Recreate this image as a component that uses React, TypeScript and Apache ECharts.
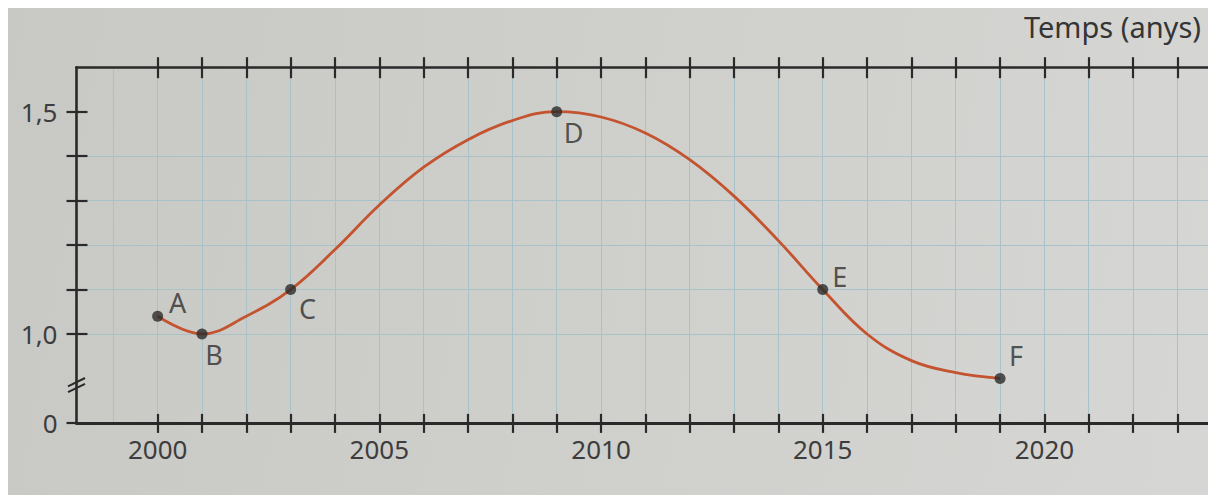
import React, { useEffect, useRef } from "react";
import * as echarts from "echarts";

// ---- data ----
const CURVE_YEARS = [2000, 2001, 2002, 2003, 2004, 2005, 2006, 2007, 2008, 2009, 2010, 2011, 2012, 2013, 2014, 2015, 2016, 2017, 2018, 2019];
const CURVE_VALUES = [1.04, 1.0, 1.04, 1.1, 1.19, 1.29, 1.375, 1.437, 1.48, 1.5, 1.488, 1.452, 1.392, 1.31, 1.21, 1.1, 1.0, 0.94, 0.913, 0.9];
const POINT_NAMES = ["A", "B", "C", "D", "E", "F"];
const POINT_YEARS = [2000, 2001, 2003, 2009, 2015, 2019];
const POINT_VALUES = [1.04, 1.0, 1.1, 1.5, 1.1, 0.9];
const X_TICK_YEARS = [2000, 2001, 2002, 2003, 2004, 2005, 2006, 2007, 2008, 2009, 2010, 2011, 2012, 2013, 2014, 2015, 2016, 2017, 2018, 2019, 2020, 2021, 2022, 2023];
const X_LABEL_YEARS = [2000, 2005, 2010, 2015, 2020];
const Y_TICK_VALUES = [1.0, 1.1, 1.2, 1.3, 1.4, 1.5];
const Y_LABEL_VALUES = [0.8, 1.0, 1.5];
const Y_LABEL_TEXTS = ["0", "1,0", "1,5"];
const X_AXIS_TITLE = "Temps (anys)";

// ---- layout / style ----
const FONT = '"Noto Sans", "Open Sans", sans-serif';
const AXIS_COLOR = "#2a2a2a";
const GRID_COLOR = "#a9c1c8";
const CURVE_COLOR = "#c4532f";
const TEXT_COLOR = "#353535";
const PX_PER_YEAR = 44.34;
const AXIS_LEFT = 68.5;
const X_MIN = 1998.17;
const X_MAX = 2023.69;
const SPLIT_MIN = 1998;
const GRID_TOP = 59.2;
const GRID_BOTTOM = 72.1;
const Y_MIN = 0.8;
const Y_MAX = 1.6;
const BREAK_VALUE = 0.885;
const LABEL_OFFSETS: Record<string, [number, number]> = {
  A: [20, -14],
  B: [12, 21],
  C: [17, 19],
  D: [17, 21],
  E: [17, -13],
  F: [16, -23],
};

export default function App() {
  const ref = useRef<HTMLDivElement>(null);

  useEffect(() => {
    if (!ref.current) return;
    const chart = echarts.init(ref.current, undefined, { renderer: "svg" });
    const grid0Left = AXIS_LEFT - (X_MIN - SPLIT_MIN) * PX_PER_YEAR;

    const tickLine = { color: AXIS_COLOR, width: 2.2 };
    const hidden = { show: false };

    const xBase = {
      type: "value" as const,
      gridIndex: 1,
      min: X_MIN,
      max: X_MAX,
      splitLine: hidden,
    };

    const option: any = {
      animation: false,
      backgroundColor: "transparent",
      title: {
        text: X_AXIS_TITLE,
        right: 7,
        top: 2,
        padding: 0,
        textStyle: { fontSize: 29, fontWeight: "normal", color: TEXT_COLOR, fontFamily: FONT, lineHeight: 32 },
      },
      grid: [
        { left: grid0Left, right: 0, top: GRID_TOP, bottom: GRID_BOTTOM },
        { left: AXIS_LEFT, right: 0, top: GRID_TOP, bottom: GRID_BOTTOM },
      ],
      xAxis: [
        {
          type: "value",
          gridIndex: 0,
          min: SPLIT_MIN,
          max: X_MAX,
          interval: 1,
          axisLine: hidden,
          axisTick: hidden,
          axisLabel: hidden,
          splitLine: { show: true, showMinLine: false, showMaxLine: false, lineStyle: { color: GRID_COLOR, width: 1 } },
        },
        {
          ...xBase,
          position: "bottom",
          axisLine: { show: true, onZero: false, lineStyle: { color: AXIS_COLOR, width: 3 } },
          axisTick: { show: true, inside: false, length: 10, customValues: X_TICK_YEARS, lineStyle: tickLine },
          axisLabel: {
            show: true,
            customValues: X_LABEL_YEARS,
            margin: 13,
            fontSize: 26,
            color: "#3d3d3d",
            fontFamily: FONT,
            formatter: (v: number) => String(Math.round(v)),
          },
        },
        {
          ...xBase,
          position: "bottom",
          axisLine: { show: false, onZero: false },
          axisTick: { show: true, inside: true, length: 9, customValues: X_TICK_YEARS, lineStyle: tickLine },
          axisLabel: hidden,
        },
        {
          ...xBase,
          position: "top",
          axisLine: { show: true, onZero: false, lineStyle: { color: AXIS_COLOR, width: 2.6 } },
          axisTick: { show: true, inside: false, length: 10, customValues: X_TICK_YEARS, lineStyle: tickLine },
          axisLabel: hidden,
        },
        {
          ...xBase,
          position: "top",
          axisLine: { show: false, onZero: false },
          axisTick: { show: true, inside: true, length: 11, customValues: X_TICK_YEARS, lineStyle: tickLine },
          axisLabel: hidden,
        },
      ],
      yAxis: [
        {
          type: "value",
          gridIndex: 0,
          min: Y_MIN,
          max: Y_MAX,
          show: false,
          splitLine: hidden,
        },
        {
          type: "value",
          gridIndex: 1,
          position: "left",
          min: Y_MIN,
          max: Y_MAX,
          interval: 0.1,
          axisLine: { show: true, onZero: false, lineStyle: { color: AXIS_COLOR, width: 2.6 } },
          axisTick: {
            show: true,
            inside: false,
            length: 10,
            customValues: [Y_MIN, ...Y_TICK_VALUES],
            lineStyle: tickLine,
          },
          axisLabel: {
            show: true,
            customValues: Y_LABEL_VALUES,
            margin: 19,
            fontSize: 26,
            color: "#3d3d3d",
            fontFamily: FONT,
            formatter: (v: number) => {
              const i = Y_LABEL_VALUES.findIndex((u) => Math.abs(u - v) < 1e-6);
              return i >= 0 ? Y_LABEL_TEXTS[i] : "";
            },
          },
          splitLine: { show: true, showMinLine: false, showMaxLine: false, lineStyle: { color: GRID_COLOR, width: 1 } },
        },
        {
          type: "value",
          gridIndex: 1,
          position: "left",
          min: Y_MIN,
          max: Y_MAX,
          interval: 0.1,
          axisLine: { show: false, onZero: false },
          axisTick: { show: true, inside: true, length: 11, customValues: Y_TICK_VALUES, lineStyle: tickLine },
          axisLabel: hidden,
          splitLine: hidden,
        },
      ],
      series: [
        {
          type: "line",
          xAxisIndex: 1,
          yAxisIndex: 1,
          data: CURVE_YEARS.map((y, i) => [y, CURVE_VALUES[i]]),
          smooth: 0.4,
          showSymbol: false,
          lineStyle: { color: CURVE_COLOR, width: 2.8 },
          z: 3,
        },
        {
          type: "scatter",
          xAxisIndex: 1,
          yAxisIndex: 1,
          symbolSize: 11,
          itemStyle: { color: "#2b2b2b" },
          z: 4,
          data: POINT_NAMES.map((n, i) => ({
            name: n,
            value: [POINT_YEARS[i], POINT_VALUES[i]],
            label: {
              show: true,
              position: "inside",
              offset: LABEL_OFFSETS[n],
              formatter: "{b}",
              fontSize: 27,
              color: "#2e2e2e",
              fontFamily: FONT,
            },
          })),
        },
      ],
    };

    chart.setOption(option);

    const p = chart.convertToPixel({ gridIndex: 1 }, [X_MIN, BREAK_VALUE]) as number[];
    if (p && isFinite(p[0]) && isFinite(p[1])) {
      const mk = (dy: number) => ({
        type: "line",
        shape: { x1: p[0] - 8.5, y1: p[1] + dy + 4.2, x2: p[0] + 8.5, y2: p[1] + dy - 4.2 },
        style: { stroke: AXIS_COLOR, lineWidth: 2 },
        z: 10,
      });
      chart.setOption({ graphic: [mk(-2.9), mk(2.9)] });
    }

    return () => {
      chart.dispose();
    };
  }, []);

  return (
    <div
      ref={ref}
      style={{
        width: "100%",
        height: 487,
        background: "linear-gradient(100deg, #c8c8c5 0%, #cfcfcc 50%, #d6d7d4 100%)",
      }}
    />
  );
}
